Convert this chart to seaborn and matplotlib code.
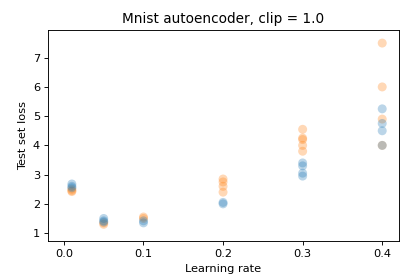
import matplotlib
matplotlib.use("Agg")
import matplotlib.pyplot as plt
import seaborn as sns
import pandas as pd

# learning rates and test losses
lr_a = [0.01, 0.01, 0.01, 0.05, 0.05, 0.1, 0.1, 0.2, 0.2, 0.2, 0.2,
        0.3, 0.3, 0.3, 0.3, 0.3, 0.4, 0.4, 0.4, 0.4]
loss_a = [2.45, 2.5, 2.42, 1.3, 1.35, 1.55, 1.5, 2.85, 2.75, 2.6, 2.4,
          4.55, 4.25, 4.2, 4.0, 3.8, 7.5, 6.0, 4.9, 4.0]
lr_b = [0.01, 0.01, 0.01, 0.05, 0.05, 0.05, 0.1, 0.1, 0.2, 0.2,
        0.3, 0.3, 0.3, 0.3, 0.4, 0.4, 0.4, 0.4]
loss_b = [2.68, 2.6, 2.55, 1.5, 1.42, 1.38, 1.42, 1.35, 2.05, 2.0,
          3.4, 3.3, 3.05, 2.95, 5.25, 4.75, 4.5, 4.0]

df = pd.concat([
    pd.DataFrame({"lr": lr_a, "loss": loss_a, "run": "a"}),
    pd.DataFrame({"lr": lr_b, "loss": loss_b, "run": "b"}),
])

dpi = 82
fig, ax = plt.subplots(figsize=(405 / dpi, 277 / dpi), dpi=dpi)
sns.scatterplot(data=df, x="lr", y="loss", hue="run",
                palette={"a": "#ff7f0e", "b": "#1f77b4"},
                alpha=0.3, s=62, linewidth=0, legend=False, ax=ax)
ax.set_xlim(-0.02, 0.421)
ax.set_ylim(0.73, 7.95)
ax.set_xticks([0.0, 0.1, 0.2, 0.3, 0.4])
ax.set_xlabel("Learning rate")
ax.set_ylabel("Test set loss")
ax.set_title("Mnist autoencoder, clip = 1.0")
fig.subplots_adjust(left=0.1185, right=0.985, top=0.892, bottom=0.13)
fig.savefig("out.png", dpi=dpi)
